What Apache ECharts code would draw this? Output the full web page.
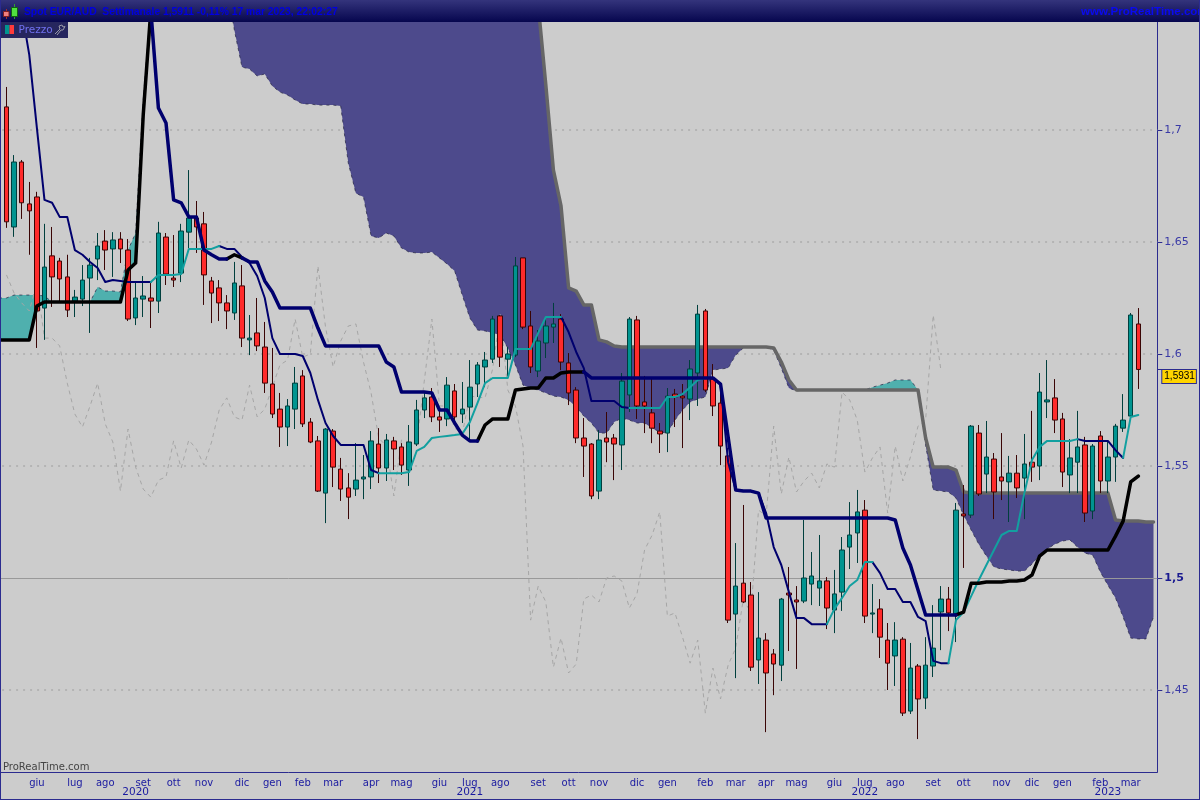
<!DOCTYPE html>
<html>
<head>
<meta charset="utf-8">
<title>Spot EUR/AUD</title>
<script src="https://cdn.jsdelivr.net/npm/echarts@6/dist/echarts.min.js"></script>
<style>
html, body { margin: 0; padding: 0; background: #cccccc; }
#chart { width: 1200px; height: 800px; }
</style>
</head>
<body>
<div id="chart"></div>
<script>
// weekly candles, 150 of them
var opens = [
1.7103,1.6567,1.6857,1.6670,1.6701,1.6205,1.6438,1.6415,1.6344,1.6236,
1.6245,1.6339,1.6424,1.6504,1.6469,1.6513,1.6464,1.6161,1.6245,1.6250,
1.6236,1.6522,1.6339,1.6361,1.6544,1.6607,1.6581,1.6326,1.6295,1.6228,
1.6183,1.6304,1.6063,1.6094,1.6031,1.5866,1.5754,1.5674,1.5754,1.5902,
1.5696,1.5612,1.5379,1.5656,1.5486,1.5402,1.5397,1.5442,1.5451,1.5598,
1.5491,1.5612,1.5585,1.5482,1.5598,1.5750,1.5808,1.5719,1.5710,1.5835,
1.5732,1.5763,1.5866,1.5942,1.5977,1.6170,1.5977,1.5995,1.6429,1.6125,
1.5924,1.6049,1.6120,1.6156,1.5960,1.5839,1.5625,1.5598,1.5388,1.5625,
1.5625,1.5594,1.5817,1.6152,1.5786,1.5737,1.5656,1.5647,1.5821,1.5812,
1.5799,1.5915,1.6192,1.5888,1.5781,1.5545,1.4839,1.4977,1.4924,1.4634,
1.4723,1.4661,1.4611,1.4933,1.4902,1.4897,1.4973,1.4955,1.4987,1.4857,
1.4937,1.5138,1.5201,1.5303,1.4839,1.4862,1.4723,1.4652,1.4727,1.4406,
1.4607,1.4464,1.4607,1.4848,1.4906,1.4839,1.5286,1.5281,1.5647,1.5464,
1.5531,1.5451,1.5429,1.5468,1.5446,1.5517,1.5500,1.5786,1.5804,1.5710,
1.5460,1.5517,1.5594,1.5299,1.5634,1.5433,1.5540,1.5669,1.5723,1.6134
];
var closes = [
1.6590,1.6857,1.6675,1.6639,1.6192,1.6388,1.6344,1.6335,1.6196,1.6254,
1.6330,1.6397,1.6482,1.6464,1.6509,1.6469,1.6156,1.6250,1.6259,1.6236,
1.6540,1.6357,1.6330,1.6549,1.6607,1.6567,1.6353,1.6272,1.6228,1.6192,
1.6317,1.6071,1.6071,1.6036,1.5870,1.5732,1.5674,1.5768,1.5870,1.5688,
1.5607,1.5388,1.5665,1.5495,1.5397,1.5361,1.5437,1.5451,1.5612,1.5491,
1.5616,1.5576,1.5504,1.5607,1.5750,1.5804,1.5719,1.5705,1.5861,1.5719,
1.5754,1.5852,1.5951,1.5973,1.6156,1.5986,1.6000,1.6393,1.6120,1.5942,
1.6058,1.6125,1.6134,1.5964,1.5826,1.5625,1.5589,1.5366,1.5616,1.5607,
1.5598,1.5879,1.6156,1.5768,1.5768,1.5669,1.5643,1.5812,1.5808,1.5804,
1.5933,1.6178,1.5839,1.5768,1.5589,1.4812,1.4964,1.4893,1.4602,1.4732,
1.4576,1.4616,1.4906,1.4924,1.4893,1.5000,1.5009,1.4987,1.4866,1.4929,
1.5125,1.5192,1.5295,1.4830,1.4844,1.4736,1.4620,1.4723,1.4397,1.4598,
1.4460,1.4611,1.4687,1.4906,1.4844,1.5303,1.5277,1.5678,1.5375,1.5540,
1.5384,1.5433,1.5468,1.5402,1.5509,1.5495,1.5830,1.5795,1.5705,1.5473,
1.5536,1.5585,1.5290,1.5589,1.5433,1.5540,1.5678,1.5705,1.6174,1.5931
];
var highs = [
1.7192,1.6888,1.6866,1.6768,1.6724,1.6581,1.6567,1.6429,1.6443,1.6286,
1.6397,1.6429,1.6540,1.6553,1.6544,1.6544,1.6513,1.6321,1.6348,1.6321,
1.6590,1.6540,1.6531,1.6581,1.6821,1.6683,1.6634,1.6344,1.6330,1.6263,
1.6411,1.6397,1.6174,1.6250,1.6143,1.6027,1.5826,1.5799,1.5942,1.5928,
1.5714,1.5634,1.5669,1.5665,1.5536,1.5468,1.5602,1.5549,1.5656,1.5669,
1.5643,1.5630,1.5602,1.5683,1.5795,1.5830,1.5848,1.5754,1.5897,1.5866,
1.5875,1.5973,1.5964,1.6009,1.6170,1.6174,1.6031,1.6433,1.6429,1.6192,
1.6107,1.6161,1.6228,1.6178,1.6004,1.5852,1.5714,1.5602,1.5661,1.5741,
1.5643,1.5915,1.6165,1.6170,1.5902,1.5888,1.5692,1.5848,1.5844,1.5866,
1.5973,1.6219,1.6201,1.5955,1.5861,1.5580,1.5156,1.5326,1.4982,1.4937,
1.4754,1.4683,1.4911,1.5049,1.4964,1.5259,1.5116,1.5192,1.5004,1.5036,
1.5183,1.5339,1.5393,1.5348,1.4973,1.4906,1.4799,1.4803,1.4736,1.4710,
1.4616,1.4736,1.4879,1.4964,1.4960,1.5335,1.5415,1.5683,1.5683,1.5701,
1.5558,1.5647,1.5545,1.5549,1.5643,1.5746,1.5915,1.5973,1.5888,1.5737,
1.5620,1.5746,1.5630,1.5598,1.5656,1.5607,1.5688,1.5821,1.6183,1.6205
];
var lows = [
1.6563,1.6523,1.6603,1.6443,1.6027,1.6063,1.6210,1.6232,1.6165,1.6165,
1.6214,1.6094,1.6330,1.6375,1.6344,1.6406,1.6147,1.6129,1.6165,1.6116,
1.6183,1.6308,1.6299,1.6321,1.6473,1.6451,1.6219,1.6138,1.6147,1.6111,
1.6152,1.6031,1.5995,1.6013,1.5826,1.5714,1.5585,1.5589,1.5665,1.5674,
1.5602,1.5384,1.5245,1.5406,1.5344,1.5263,1.5366,1.5352,1.5397,1.5424,
1.5433,1.5482,1.5460,1.5411,1.5589,1.5714,1.5696,1.5652,1.5678,1.5696,
1.5692,1.5616,1.5808,1.5852,1.5960,1.5942,1.5902,1.5986,1.6111,1.5915,
1.5897,1.5982,1.6049,1.5928,1.5772,1.5602,1.5451,1.5352,1.5352,1.5517,
1.5437,1.5482,1.5741,1.5710,1.5647,1.5602,1.5558,1.5562,1.5674,1.5580,
1.5705,1.5768,1.5830,1.5723,1.5504,1.4799,1.4553,1.4888,1.4585,1.4527,
1.4312,1.4477,1.4540,1.4674,1.4594,1.4888,1.4879,1.4875,1.4772,1.4754,
1.4853,1.5040,1.5067,1.4799,1.4754,1.4643,1.4500,1.4518,1.4384,1.4393,
1.4281,1.4415,1.4558,1.4678,1.4763,1.4714,1.5045,1.5268,1.5366,1.5379,
1.5263,1.5348,1.5250,1.5357,1.5263,1.5429,1.5437,1.5714,1.5647,1.5406,
1.5379,1.5379,1.5250,1.5263,1.5379,1.5379,1.5429,1.5652,1.5719,1.5844
];

// thick line (kijun)
var kijunBeforeFirst = 1.6063;
var kijun = [
1.6063,1.6063,1.6063,1.6063,1.6214,1.6232,1.6232,1.6232,1.6232,1.6232,
1.6232,1.6232,1.6232,1.6232,1.6232,1.6232,1.6375,1.6406,1.7067,1.7535,
1.7098,1.7031,1.6688,1.6675,1.6612,1.6612,1.6464,1.6443,1.6424,1.6424,
1.6443,1.6429,1.6411,1.6411,1.6326,1.6277,1.6205,1.6205,1.6205,1.6205,
1.6205,1.6116,1.6036,1.6036,1.6036,1.6036,1.6036,1.6036,1.6036,1.6036,
1.5964,1.5942,1.5830,1.5830,1.5830,1.5830,1.5826,1.5750,1.5750,1.5692,
1.5638,1.5612,1.5612,1.5683,1.5710,1.5710,1.5710,1.5839,1.5844,1.5848,
1.5848,1.5893,1.5893,1.5915,1.5920,1.5920,1.5920,1.5893,1.5893,1.5893,
1.5893,1.5893,1.5893,1.5893,1.5893,1.5893,1.5893,1.5893,1.5893,1.5893,
1.5893,1.5893,1.5893,1.5893,1.5866,1.5630,1.5393,1.5388,1.5388,1.5379,
1.5268,1.5268,1.5268,1.5268,1.5268,1.5268,1.5268,1.5268,1.5268,1.5268,
1.5268,1.5268,1.5268,1.5268,1.5268,1.5268,1.5268,1.5259,1.5134,1.5058,
1.4946,1.4835,1.4835,1.4835,1.4835,1.4835,1.4848,1.4977,1.4977,1.4982,
1.4982,1.4982,1.4987,1.4987,1.4991,1.5013,1.5098,1.5125,1.5125,1.5125,
1.5125,1.5125,1.5125,1.5125,1.5125,1.5125,1.5187,1.5254,1.5429,1.5455
];
var kijunBlackRanges = [[0,19],[29,31],[62,76],[125,149]];
var kijunNavyRanges = [[19,29],[31,62],[76,125]];

// thin line (tenkan)
var tenkan = [
1.7848,1.7714,1.7535,1.7335,1.7009,1.6688,1.6675,1.6612,1.6612,1.6464,
1.6443,1.6411,1.6384,1.6321,1.6330,1.6326,1.6321,1.6321,1.6321,1.6321,
1.6353,1.6353,1.6353,1.6357,1.6469,1.6469,1.6469,1.6469,1.6482,1.6469,
1.6469,1.6433,1.6406,1.6348,1.6250,1.6071,1.6000,1.6000,1.6000,1.5991,
1.5915,1.5795,1.5692,1.5634,1.5594,1.5594,1.5594,1.5594,1.5482,1.5468,
1.5468,1.5468,1.5468,1.5473,1.5567,1.5585,1.5625,1.5630,1.5634,1.5638,
1.5643,1.5696,1.5781,1.5870,1.5893,1.5893,1.5893,1.6022,1.6022,1.6022,
1.6094,1.6165,1.6165,1.6165,1.6098,1.6009,1.5937,1.5790,1.5790,1.5790,
1.5790,1.5763,1.5759,1.5759,1.5759,1.5759,1.5759,1.5808,1.5808,1.5821,
1.5852,1.5884,1.5893,1.5893,1.5866,1.5517,1.5393,1.5388,1.5388,1.5379,
1.5290,1.5138,1.5058,1.4937,1.4821,1.4821,1.4794,1.4794,1.4794,1.4862,
1.4911,1.4964,1.4991,1.5071,1.5071,1.5022,1.4951,1.4951,1.4893,1.4893,
1.4826,1.4808,1.4630,1.4620,1.4620,1.4812,1.4848,1.4919,1.4991,1.5058,
1.5125,1.5192,1.5210,1.5210,1.5379,1.5527,1.5585,1.5612,1.5612,1.5612,
1.5612,1.5620,1.5612,1.5612,1.5612,1.5612,1.5571,1.5536,1.5719,1.5728
];
var tenkanNavyRanges = [[0,19],[28,49],[73,82],[92,108],[114,124],[141,147]];
var tenkanTealRanges = [[19,28],[49,73],[82,92],[108,114],[124,141],[147,149]];

// cloud edges, these start one week before the first candle and end two weeks after the last
var senkouA = [
1.6250,
1.6250,1.6263,1.6263,1.6263,1.6263,1.6259,1.6232,1.6232,1.6232,1.6232,
1.6232,1.6232,1.6299,1.6281,1.6281,1.6277,1.6464,1.6540,1.7134,1.7558,
1.7781,1.7848,1.7892,1.7892,1.7892,1.7870,1.7826,1.7781,1.7714,1.7647,
1.7446,1.7281,1.7272,1.7241,1.7250,1.7196,1.7169,1.7156,1.7134,1.7116,
1.7116,1.7111,1.7111,1.7111,1.7107,1.6852,1.6718,1.6701,1.6527,1.6518,
1.6540,1.6527,1.6473,1.6455,1.6451,1.6451,1.6455,1.6429,1.6402,1.6371,
1.6263,1.6161,1.6107,1.6103,1.6094,1.6085,1.6027,1.5951,1.5861,1.5848,
1.5839,1.5826,1.5812,1.5808,1.5795,1.5763,1.5723,1.5692,1.5647,1.5647,
1.5696,1.5714,1.5705,1.5692,1.5692,1.5669,1.5652,1.5647,1.5705,1.5750,
1.5786,1.5799,1.5808,1.5928,1.5933,1.5937,1.5995,1.6027,1.6031,1.6031,
1.6031,1.6018,1.5937,1.5848,1.5835,1.5839,1.5839,1.5839,1.5839,1.5839,
1.5839,1.5839,1.5839,1.5839,1.5852,1.5861,1.5870,1.5884,1.5884,1.5884,
1.5839,1.5594,1.5393,1.5388,1.5384,1.5357,1.5281,1.5214,1.5151,1.5098,
1.5049,1.5040,1.5036,1.5031,1.5031,1.5062,1.5102,1.5129,1.5151,1.5165,
1.5170,1.5138,1.5111,1.5102,1.5027,1.4968,1.4911,1.4826,1.4732,1.4728,
1.4728,1.4826
];
var senkouB = [
1.6063,
1.6063,1.6063,1.6063,1.6063,1.6214,1.6232,1.6232,1.6232,1.6232,1.6232,
1.6232,1.6232,1.6232,1.6232,1.6232,1.6232,1.6375,1.6406,1.7067,1.7535,
1.7937,1.7937,1.7937,1.7937,1.7937,1.7937,1.7937,1.7937,1.7937,1.7937,
1.7937,1.7937,1.7937,1.7937,1.7937,1.7937,1.7937,1.7937,1.7937,1.7937,
1.7937,1.7937,1.7937,1.7937,1.7937,1.7937,1.7937,1.7937,1.7937,1.7937,
1.7937,1.7937,1.7937,1.7937,1.7937,1.7937,1.7937,1.7937,1.7937,1.7937,
1.7937,1.7937,1.7937,1.7937,1.7937,1.7937,1.7937,1.7937,1.7937,1.7937,
1.7558,1.7201,1.6821,1.6661,1.6295,1.6281,1.6219,1.6219,1.6063,1.6054,
1.6036,1.6031,1.6031,1.6031,1.6031,1.6031,1.6031,1.6031,1.6031,1.6031,
1.6031,1.6031,1.6031,1.6031,1.6031,1.6031,1.6031,1.6031,1.6031,1.6031,
1.6031,1.6027,1.5964,1.5884,1.5839,1.5839,1.5839,1.5839,1.5839,1.5839,
1.5839,1.5839,1.5839,1.5839,1.5839,1.5839,1.5839,1.5839,1.5839,1.5839,
1.5839,1.5625,1.5495,1.5495,1.5495,1.5482,1.5384,1.5379,1.5379,1.5379,
1.5379,1.5379,1.5379,1.5379,1.5379,1.5379,1.5379,1.5379,1.5379,1.5379,
1.5379,1.5379,1.5379,1.5379,1.5379,1.5379,1.5259,1.5254,1.5254,1.5254,
1.5250,1.5250
];

var monthLabels = ['giu','lug','ago','set','ott','nov','dic','gen','feb','mar','apr','mag',
  'giu','lug','ago','set','ott','nov','dic','gen','feb','mar','apr','mag',
  'giu','lug','ago','set','ott','nov','dic','gen','feb','mar'];
var monthWeeks = [4,9,13,18,22,26,31,35,39,43,48,52,57,61,65,70,74,78,83,87,92,96,100,104,109,113,117,122,126,131,135,139,144,148];
var yearLabels = ['2020','2021','2022','2023'];
var yearLabelWeeks = [17,61,113,145];
var yearStartWeeks = [35,87,139];

var priceTicks = [1.45,1.5,1.55,1.6,1.65,1.7];
var dottedLevels = [1.45,1.55,1.6,1.65,1.7];
var baseLevel = 1.5;
var lastPrice = 1.5931;

var weekCount = 153;
var monthCats = [], yearCats = [];
for (var w = 0; w < weekCount; w++) {
    var m = monthWeeks.indexOf(w - 1), y = yearLabelWeeks.indexOf(w - 1);
    monthCats.push(m >= 0 ? monthLabels[m] : '');
    yearCats.push(y >= 0 ? yearLabels[y] : '');
}

var withLead = function (arr) { return [null].concat(arr); };
var pick = function (arr, ranges) {
    return withLead(arr.map(function (v, i) {
        var hit = ranges.some(function (r) { return i >= r[0] && i <= r[1]; });
        return hit ? v : null;
    }));
};

var candles = ['-'].concat(opens.map(function (o, i) {
    return [o, closes[i], lows[i], highs[i]];
}));

// stacked pieces of the cloud
var kumoFloor = senkouA.map(function (a, i) { return Math.min(a, senkouB[i]); });
var kumoPurple = senkouA.map(function (a, i) { return Math.max(senkouB[i] - a, 0); });
var kumoTeal = senkouA.map(function (a, i) { return Math.max(a - senkouB[i], 0); });

// the dashed line is the close plotted 26 weeks back
var chikou = withLead(closes.slice(26));

var kijunBlack = pick(kijun, kijunBlackRanges);
kijunBlack[0] = kijunBeforeFirst;

var frameBlue = '#2b2b8f';
var navy = '#00006e';
var tealLine = '#12a0a0';

var thinOrThick = function (name, data, color, width, z) {
    return {
        name: name, type: 'line', data: data, showSymbol: false, z: z,
        lineStyle: { color: color, width: width, cap: 'round', join: 'round' },
        itemStyle: { color: color }, silent: true
    };
};
var floorSeries = function (stack) {
    return {
        type: 'line', stack: stack, data: kumoFloor, showSymbol: false, z: 2, silent: true,
        lineStyle: { width: 0 }
    };
};
var areaSeries = function (stack, data, color) {
    return {
        type: 'line', stack: stack, data: data, showSymbol: false, z: 2, silent: true,
        lineStyle: { width: 0 }, areaStyle: { color: color, opacity: 1 }
    };
};

var chart = echarts.init(document.getElementById('chart'));

var option = {
    animation: false,
    backgroundColor: '#cccccc',
    grid: { left: -4.9, right: 42.7, top: 22, bottom: 28, outerBoundsMode: 'none' },
    xAxis: [
        {
            type: 'category', data: monthCats, boundaryGap: true,
            axisLine: { lineStyle: { color: frameBlue, width: 1 } },
            axisTick: {
                alignWithLabel: true, length: 4, lineStyle: { color: frameBlue },
                interval: function (i, v) { return v !== ''; }
            },
            axisLabel: {
                color: '#1a1aa0', fontFamily: 'DejaVu Sans', fontSize: 10, margin: 6,
                interval: function (i, v) { return v !== ''; }
            },
            splitLine: { show: false }
        },
        {
            type: 'category', data: yearCats, boundaryGap: true, position: 'bottom', offset: 13,
            axisLine: { show: false },
            axisTick: {
                alignWithLabel: true, length: 14, lineStyle: { color: frameBlue },
                interval: function (i) { return yearStartWeeks.indexOf(i - 1) >= 0; }
            },
            axisLabel: {
                color: '#1a1aa0', fontFamily: 'DejaVu Sans', fontSize: 10.5, margin: 2,
                interval: function (i, v) { return v !== ''; }
            },
            splitLine: { show: false }
        }
    ],
    yAxis: {
        type: 'value', position: 'right', scale: true, min: 1.4134, max: 1.7482,
        axisLine: { show: true, lineStyle: { color: frameBlue, width: 1 } },
        axisTick: {
            show: true, length: 5, lineStyle: { color: frameBlue },
            customValues: priceTicks.concat([lastPrice])
        },
        axisLabel: {
            customValues: priceTicks, margin: 7,
            color: '#3a3aa6', fontFamily: 'DejaVu Sans', fontSize: 11,
            formatter: function (v) {
                var s = String(+v.toFixed(2)).replace('.', ',');
                return v === 1.5 ? '{b|' + s + '}' : s;
            },
            rich: { b: { color: '#1a1a90', fontFamily: 'DejaVu Sans', fontSize: 11, fontWeight: 'bold' } }
        },
        splitLine: { show: false }
    },
    series: [
        // grid levels live on empty helper series
        {
            type: 'line', data: [], z: 1, silent: true,
            markLine: {
                silent: true, symbol: 'none', label: { show: false }, animation: false, z: 1,
                lineStyle: { color: '#b4b4b4', type: [2, 5], width: 2 },
                data: dottedLevels.map(function (v) { return { yAxis: v }; })
            }
        },
        {
            type: 'line', data: [], z: 3, silent: true,
            markLine: {
                silent: true, symbol: 'none', label: { show: false }, animation: false, z: 3,
                lineStyle: { color: '#999999', type: 'solid', width: 1 },
                data: [{ yAxis: baseLevel }]
            }
        },
        {
            type: 'line', data: [], z: 20, silent: true,
            markLine: {
                silent: true, symbol: 'none', animation: false, z: 20,
                lineStyle: { color: 'rgba(0,0,0,0)', width: 1 },
                label: {
                    show: true, position: 'end', distance: 5, verticalAlign: 'middle', align: 'left',
                    formatter: function () { return String(lastPrice).replace('.', ','); },
                    color: '#000000', fontFamily: 'Liberation Sans', fontSize: 10, lineHeight: 11,
                    backgroundColor: '#ffd400', borderColor: frameBlue, borderWidth: 1,
                    padding: [1, 1, 1, 2]
                },
                data: [{ yAxis: lastPrice }]
            }
        },
        floorSeries('kumoP'),
        areaSeries('kumoP', kumoPurple, '#4d4a8c'),
        floorSeries('kumoT'),
        areaSeries('kumoT', kumoTeal, '#4fb0ae'),
        {
            name: 'senkouA', type: 'line', data: senkouA, showSymbol: false, z: 3, silent: true,
            lineStyle: { color: '#2a2a48', width: 1, type: [3, 4], opacity: 0.75 }
        },
        {
            name: 'chikou', type: 'line', data: chikou, showSymbol: false, z: 3, silent: true,
            lineStyle: { color: '#a6a6a6', width: 1, type: [4, 4] }
        },
        thinOrThick('senkouB', senkouB.map(function (v, i) { return i > 20 ? v : null; }), '#666666', 3.5, 4),
        {
            name: 'Prezzo', type: 'candlestick', data: candles, barWidth: 5, z: 5, silent: true,
            itemStyle: {
                color: '#009490', color0: '#ff2b2b',
                borderColor: '#003f3d', borderColor0: '#3a0505', borderWidth: 1
            }
        },
        thinOrThick('tenkanNavy', pick(tenkan, tenkanNavyRanges), navy, 2, 6),
        thinOrThick('tenkanTeal', pick(tenkan, tenkanTealRanges), tealLine, 2, 6),
        thinOrThick('kijunBlack', kijunBlack, '#000000', 3.5, 7),
        thinOrThick('kijunNavy', pick(kijun, kijunNavyRanges), navy, 3.5, 7)
    ],
    graphic: [
        {
            type: 'rect', z: 100, shape: { x: 0, y: 0, width: 1200, height: 22 },
            style: {
                fill: new echarts.graphic.LinearGradient(0, 0, 0, 1, [
                    { offset: 0, color: '#34347c' }, { offset: 1, color: '#06064e' }
                ])
            }
        },
        { type: 'rect', z: 101, shape: { x: 6, y: 9, width: 1, height: 10 }, style: { fill: '#a03030' } },
        { type: 'rect', z: 102, shape: { x: 3.5, y: 11.5, width: 5.5, height: 5 }, style: { fill: '#f08080', stroke: '#802020' } },
        { type: 'rect', z: 101, shape: { x: 14, y: 4, width: 1, height: 15 }, style: { fill: '#30a030' } },
        { type: 'rect', z: 102, shape: { x: 11.5, y: 7.5, width: 6, height: 9 }, style: { fill: '#50e040', stroke: '#106010' } },
        {
            type: 'text', z: 101, x: 24, y: 7,
            style: {
                text: 'Spot EUR/AUD  Settimanale 1,5911 -0,11% 17 mar 2023, 22:02:27',
                fill: '#0000e0', font: 'bold 10.3px "Liberation Sans"'
            }
        },
        {
            type: 'text', z: 101, x: 1081, y: 6,
            style: { text: 'www.ProRealTime.com', fill: '#0a0af0', font: 'bold 11.5px "Liberation Sans"' }
        },
        { type: 'rect', z: 100, shape: { x: 1, y: 22, width: 67, height: 16 }, style: { fill: '#26265e' } },
        { type: 'rect', z: 101, shape: { x: 5, y: 25, width: 4.5, height: 9 }, style: { fill: '#009490' } },
        { type: 'rect', z: 101, shape: { x: 9.5, y: 25, width: 4.5, height: 9 }, style: { fill: '#ff3a3a' } },
        {
            type: 'text', z: 101, x: 18.5, y: 24.5,
            style: { text: 'Prezzo', fill: '#7070f0', font: '10.5px "DejaVu Sans"' }
        },
        {
            type: 'polyline', z: 101, shape: { points: [[55, 34], [60, 29], [59, 26], [62, 25], [63, 27], [65, 26.5], [63, 30], [61, 30], [57, 35]] },
            style: { fill: 'none', stroke: '#9a9aa8', lineWidth: 1 }
        },
        {
            type: 'text', z: 101, x: 3, y: 762,
            style: { text: 'ProRealTime.com', fill: '#444444', font: '10px "DejaVu Sans"' }
        },
        { type: 'rect', z: 103, shape: { x: 0, y: 0, width: 1, height: 800 }, style: { fill: frameBlue } },
        { type: 'rect', z: 103, shape: { x: 1199, y: 0, width: 1, height: 800 }, style: { fill: frameBlue } },
        { type: 'rect', z: 103, shape: { x: 0, y: 799, width: 1200, height: 1 }, style: { fill: frameBlue } }
    ]
};

chart.setOption(option);
</script>
</body>
</html>
